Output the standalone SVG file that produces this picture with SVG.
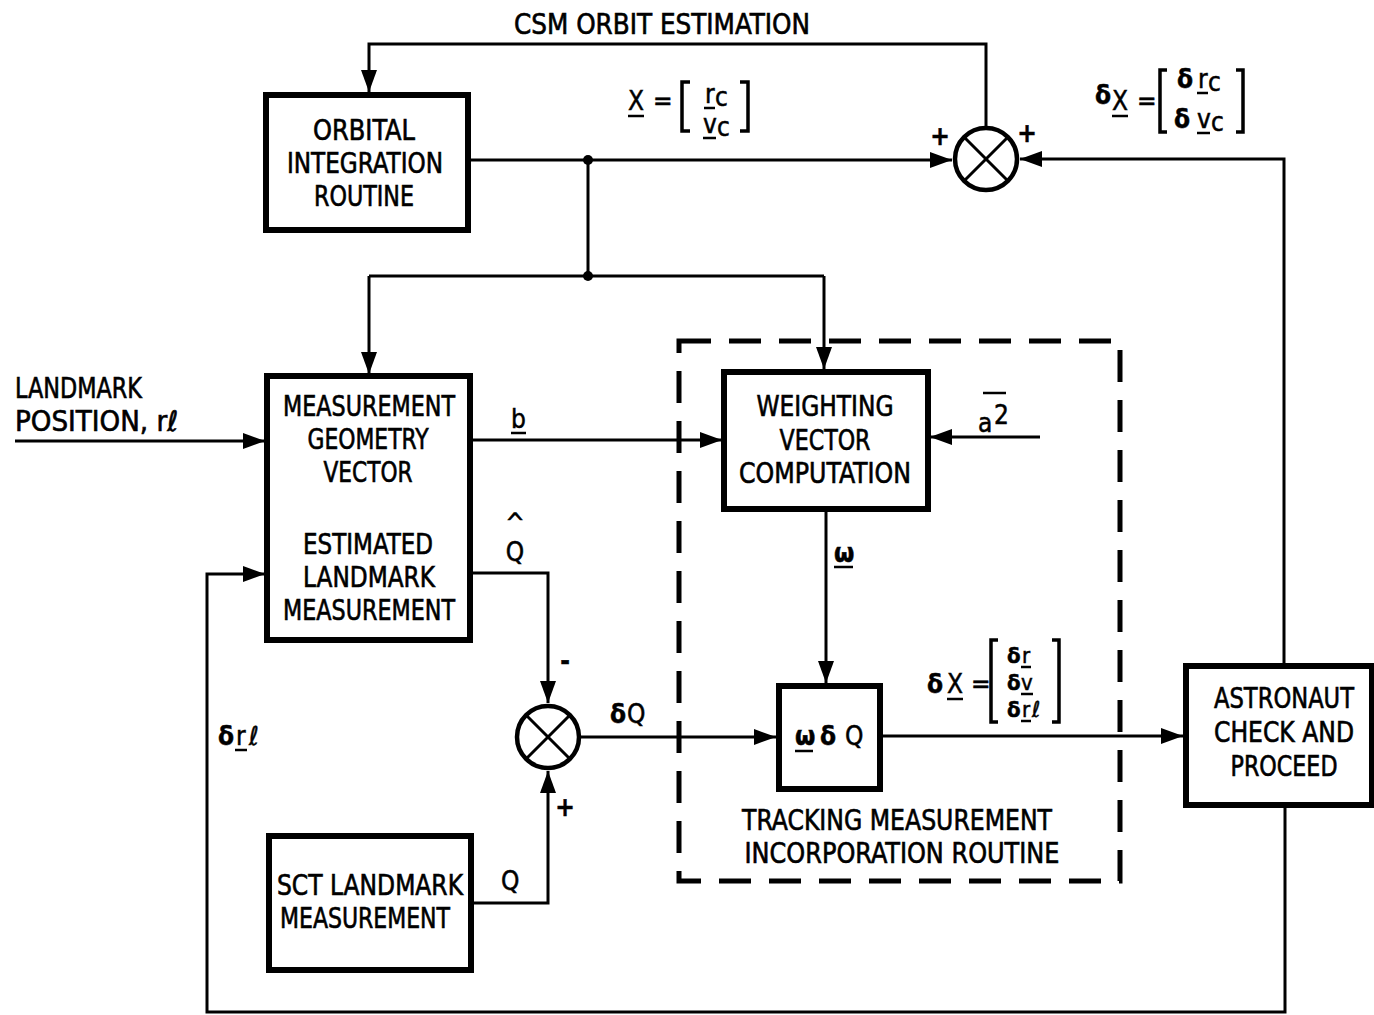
<svg xmlns="http://www.w3.org/2000/svg" width="1374" height="1015" viewBox="0 0 1374 1015">
<style>
.box{fill:#fff;stroke:#000;stroke-width:6}
.ln{fill:none;stroke:#000;stroke-width:3}
.arr{marker-end:url(#ah)}
.t{font-family:"DejaVu Sans Condensed","DejaVu Sans",sans-serif;font-size:28px;fill:#000;stroke:#000;stroke-width:0.6;text-anchor:middle}
.s{font-family:"DejaVu Sans Condensed","DejaVu Sans",sans-serif;font-size:26px;fill:#000;stroke:#000;stroke-width:0.5}
.m{font-size:22px}
.b{font-weight:bold}
.ul{stroke:#000;stroke-width:2.5}
.br{fill:none;stroke:#000;stroke-width:3.5}
.sum{fill:#fff;stroke:#000;stroke-width:4.5}
</style>
<defs>
<marker id="ah" markerUnits="userSpaceOnUse" markerWidth="24" markerHeight="18" refX="22" refY="8" orient="auto">
<path d="M0,0 L22,8 L0,16 z" fill="#000"/>
</marker>
</defs>

<g id="connectors">
<path class="ln arr" d="M468,160 L952,160"/>
<circle cx="588" cy="160" r="5" fill="#000"/>
<path class="ln" d="M588,160 L588,276"/>
<circle cx="588" cy="276" r="5" fill="#000"/>
<path class="ln" d="M369,276 L824,276"/>
<path class="ln arr" d="M369,276 L369,374"/>
<path class="ln arr" d="M824,276 L824,369"/>
<path class="ln arr" d="M986,127 L986,44 L369,44 L369,92"/>
<path class="ln arr" d="M1284,665 L1284,159 L1020,159"/>
<path class="ln arr" d="M1285,805 L1285,1012 L207,1012 L207,574 L265,574"/>
<path class="ln arr" d="M15,441 L265,441"/>
<path class="ln arr" d="M470,440 L722,440"/>
<path class="ln arr" d="M1040,437 L930,437"/>
<path class="ln arr" d="M826,509 L826,683"/>
<path class="ln arr" d="M470,573 L548,573 L548,703"/>
<path class="ln arr" d="M471,903 L548,903 L548,771"/>
<path class="ln arr" d="M580,737 L776,737"/>
<path class="ln arr" d="M880,736 L1183,736"/>
</g>

<g id="tracking-routine">
<rect x="679" y="341" width="441" height="540" fill="none" stroke="#000" stroke-width="5" stroke-dasharray="32 18"/>
<text class="t" x="897" y="830" textLength="310" lengthAdjust="spacingAndGlyphs">TRACKING MEASUREMENT</text>
<text class="t" x="902" y="863" textLength="315" lengthAdjust="spacingAndGlyphs">INCORPORATION ROUTINE</text>
</g>

<g id="orbital">
<rect class="box" x="266" y="95" width="202" height="135"/>
<text class="t" x="364" y="140" textLength="102" lengthAdjust="spacingAndGlyphs">ORBITAL</text>
<text class="t" x="365" y="173" textLength="156" lengthAdjust="spacingAndGlyphs">INTEGRATION</text>
<text class="t" x="364" y="206" textLength="100" lengthAdjust="spacingAndGlyphs">ROUTINE</text>
</g>

<g id="measurement">
<rect class="box" x="267" y="376" width="203" height="264"/>
<text class="t" x="369" y="416" textLength="172" lengthAdjust="spacingAndGlyphs">MEASUREMENT</text>
<text class="t" x="368" y="449" textLength="121" lengthAdjust="spacingAndGlyphs">GEOMETRY</text>
<text class="t" x="368" y="482" textLength="89" lengthAdjust="spacingAndGlyphs">VECTOR</text>
<text class="t" x="368" y="554" textLength="130" lengthAdjust="spacingAndGlyphs">ESTIMATED</text>
<text class="t" x="369" y="587" textLength="132" lengthAdjust="spacingAndGlyphs">LANDMARK</text>
<text class="t" x="369" y="620" textLength="172" lengthAdjust="spacingAndGlyphs">MEASUREMENT</text>
</g>

<g id="weighting">
<rect class="box" x="724" y="372" width="204" height="137"/>
<text class="t" x="825" y="416" textLength="137" lengthAdjust="spacingAndGlyphs">WEIGHTING</text>
<text class="t" x="825" y="450" textLength="91" lengthAdjust="spacingAndGlyphs">VECTOR</text>
<text class="t" x="825" y="483" textLength="172" lengthAdjust="spacingAndGlyphs">COMPUTATION</text>
</g>

<g id="omega-dq">
<rect class="box" x="779" y="686" width="101" height="103"/>
<text class="s b" x="795" y="745">ω</text>
<line class="ul" x1="795" y1="751" x2="813" y2="751"/>
<text class="s b" x="820" y="745">δ</text>
<text class="s" x="845" y="745">Q</text>
</g>

<g id="astronaut">
<rect class="box" x="1186" y="666" width="186" height="139"/>
<text class="t" x="1284" y="708" textLength="140" lengthAdjust="spacingAndGlyphs">ASTRONAUT</text>
<text class="t" x="1284" y="742" textLength="140" lengthAdjust="spacingAndGlyphs">CHECK AND</text>
<text class="t" x="1284" y="776" textLength="107" lengthAdjust="spacingAndGlyphs">PROCEED</text>
</g>

<g id="sct">
<rect class="box" x="269" y="836" width="202" height="134"/>
<text class="t" x="370" y="895" textLength="186" lengthAdjust="spacingAndGlyphs">SCT LANDMARK</text>
<text class="t" x="365" y="928" textLength="170" lengthAdjust="spacingAndGlyphs">MEASUREMENT</text>
</g>

<g id="sum-top">
<circle class="sum" cx="986" cy="159" r="31"/>
<line class="ln" x1="964" y1="137" x2="1008" y2="181" stroke-width="3.5"/>
<line class="ln" x1="1008" y1="137" x2="964" y2="181" stroke-width="3.5"/>
<text class="s b" x="940" y="145" text-anchor="middle">+</text>
<text class="s b" x="1027" y="142" text-anchor="middle">+</text>
</g>

<g id="sum-bottom">
<circle class="sum" cx="548" cy="737" r="31"/>
<line class="ln" x1="526" y1="715" x2="570" y2="759" stroke-width="3.5"/>
<line class="ln" x1="570" y1="715" x2="526" y2="759" stroke-width="3.5"/>
<text class="s b" x="565" y="670" text-anchor="middle">-</text>
<text class="s b" x="565" y="816" text-anchor="middle">+</text>
</g>

<g id="labels">
<text class="t" x="662" y="34" textLength="296" lengthAdjust="spacingAndGlyphs">CSM ORBIT ESTIMATION</text>
<text class="t" x="15" y="398" style="text-anchor:start" textLength="127" lengthAdjust="spacingAndGlyphs">LANDMARK</text>
<text class="t" x="15" y="431" style="text-anchor:start" textLength="163" lengthAdjust="spacingAndGlyphs">POSITION, rℓ</text>

<text class="s" x="511" y="428">b</text>
<line class="ul" x1="511" y1="433" x2="526" y2="433"/>

<text class="s" x="515" y="532" text-anchor="middle" font-size="18">^</text>
<text class="s" x="515" y="561" text-anchor="middle">Q</text>

<text class="s" x="501" y="890">Q</text>
<text class="s b" x="610" y="723">δ</text>
<text class="s" x="627" y="723">Q</text>

<text class="s b" x="834" y="562">ω</text>
<line class="ul" x1="834" y1="567" x2="853" y2="567"/>

<text class="s" x="978" y="432">a</text>
<text class="s" x="994" y="424" font-size="21">2</text>
<line class="ul" x1="983" y1="393" x2="1006" y2="393"/>

<text class="s b" x="218" y="745">δ</text>
<text class="s" x="236" y="745">r</text>
<line class="ul" x1="235" y1="750" x2="247" y2="750"/>
<text class="s" x="249" y="745">ℓ</text>

<!-- X = [rc ; vc] -->
<text class="s" x="628" y="110">X</text>
<line class="ul" x1="628" y1="116" x2="644" y2="116"/>
<text class="s" x="653" y="110">=</text>
<path class="br" d="M690,82 L682,82 L682,131 L690,131"/>
<text class="s" x="705" y="103">r</text>
<line class="ul" x1="704" y1="108" x2="715" y2="108"/>
<text class="s" x="715" y="106">c</text>
<text class="s" x="703" y="133">v</text>
<line class="ul" x1="703" y1="138" x2="716" y2="138"/>
<text class="s" x="717" y="136">c</text>
<path class="br" d="M740,82 L748,82 L748,131 L740,131"/>

<!-- delta X = [d rc ; d vc] -->
<text class="s b" x="1095" y="104">δ</text>
<text class="s" x="1112" y="110">X</text>
<line class="ul" x1="1112" y1="116" x2="1128" y2="116"/>
<text class="s" x="1137" y="110">=</text>
<path class="br" d="M1167,70 L1160,70 L1160,132 L1167,132"/>
<text class="s b" x="1177" y="88">δ</text>
<text class="s" x="1198" y="88">r</text>
<line class="ul" x1="1197" y1="93" x2="1208" y2="93"/>
<text class="s" x="1208" y="91">c</text>
<text class="s b" x="1174" y="128">δ</text>
<text class="s" x="1197" y="128">v</text>
<line class="ul" x1="1197" y1="133" x2="1210" y2="133"/>
<text class="s" x="1211" y="131">c</text>
<path class="br" d="M1236,70 L1243,70 L1243,132 L1236,132"/>

<!-- delta X = [dr; dv; drl] -->
<text class="s b" x="927" y="693">δ</text>
<text class="s" x="947" y="693">X</text>
<line class="ul" x1="947" y1="699" x2="963" y2="699"/>
<text class="s" x="971" y="693">=</text>
<path class="br" d="M998,640 L991,640 L991,722 L998,722"/>
<text class="s m b" x="1007" y="663">δ</text>
<text class="s m" x="1022" y="663">r</text>
<line class="ul" x1="1021" y1="667" x2="1031" y2="667"/>
<text class="s m b" x="1007" y="690">δ</text>
<text class="s m" x="1021" y="690">v</text>
<line class="ul" x1="1021" y1="694" x2="1033" y2="694"/>
<text class="s m b" x="1007" y="717">δ</text>
<text class="s m" x="1022" y="717">r</text>
<line class="ul" x1="1021" y1="721" x2="1031" y2="721"/>
<text class="s m" x="1032" y="717">ℓ</text>
<path class="br" d="M1052,640 L1059,640 L1059,722 L1052,722"/>
</g>
</svg>
